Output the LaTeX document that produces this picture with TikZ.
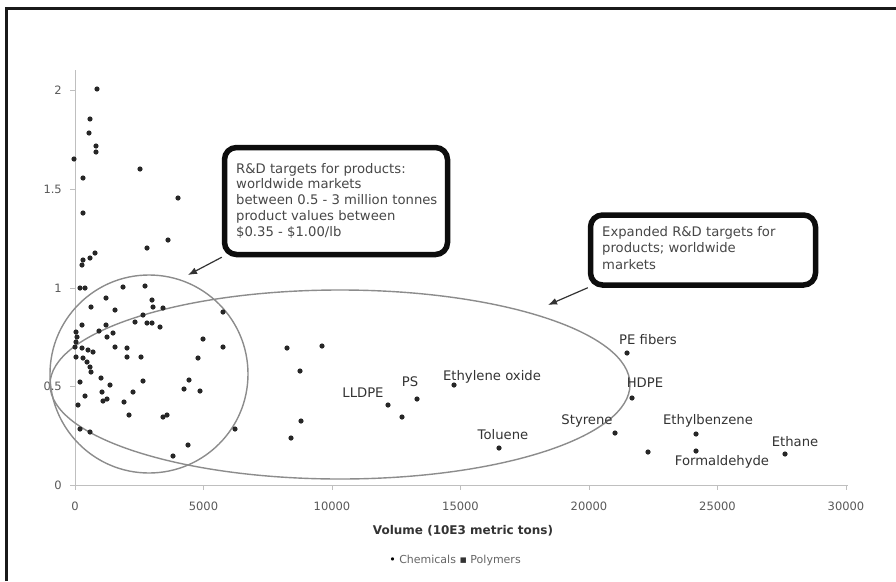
\documentclass[tikz,border=0pt]{standalone}
\usepackage{fontspec}
\setmainfont{DejaVu Sans}
\usetikzlibrary{arrows.meta,backgrounds}
\begin{document}
\begin{tikzpicture}[x=1pt,y=-1pt,
  lbl/.style={font=\fontsize{13.2}{15}\selectfont,text=black!80,inner sep=0pt},
  ticklbl/.style={font=\fontsize{11.5}{13}\selectfont,text=black!65,inner sep=0pt},
  callout/.style={draw=black!95,line width=5.5pt,rounded corners=12pt,fill=white,inner sep=0pt},
  ctext/.style={font=\fontsize{13.2}{15.7}\selectfont,text=black!72,align=left,inner sep=0pt,anchor=north west},
  axisline/.style={draw=black!25,line width=1pt},
  region/.style={draw=black!45,line width=1.4pt},
  pointer/.style={draw=black!80,line width=1.2pt,-{Latex[length=9pt,width=7pt]}}
]
\useasboundingbox (0,0) rectangle (896,581);
% frame
\draw[black!90,line width=3pt] (6,581) -- (6,8) -- (896,8);
% axes
\draw[axisline] (75,70) -- (75,485) -- (848,485);
\foreach \yy in {90,189,288,386,485} \draw[axisline] (70,\yy) -- (75,\yy);
\foreach \k in {0,...,6} \draw[axisline] ({75+128.5*\k},485) -- ({75+128.5*\k},490);
\node[ticklbl,anchor=east] (y2) at (62,90) {2};
\node[ticklbl,anchor=east] (y15) at (62,189) {1.5};
\node[ticklbl,anchor=east] (y1) at (62,288) {1};
\node[ticklbl,anchor=east] (y05) at (62,386) {0.5};
\node[ticklbl,anchor=east] (y0) at (62,485) {0};
\node[ticklbl] (x0) at (75,506) {0};
\node[ticklbl] (x1) at (203.5,506) {5000};
\node[ticklbl] (x2) at (332,506) {10000};
\node[ticklbl] (x3) at (460.5,506) {15000};
\node[ticklbl] (x4) at (589,506) {20000};
\node[ticklbl] (x5) at (717.5,506) {25000};
\node[ticklbl] (x6) at (846,506) {30000};
\node[font=\fontsize{12}{14}\selectfont\bfseries,text=black!80,inner sep=0pt] (xt) at (463,531) {Volume (10E3 metric tons)};
\node[font=\fontsize{11}{12}\selectfont,text=black!60,inner sep=0pt] (leg) at (455,560) {\textcolor{black}{•} Chemicals \textcolor{black!80}{▪} Polymers};
% regions
\draw[region] (149,374) circle (99pt);
\draw[region] (340,384.5) ellipse (290pt and 94.5pt);
% data points
\foreach \px/\py in {97/89,90/119,89/133,74/159,83/178,140/169,178/198,83/213,96/146,96/152,
  147/248,168/240,83/260,82/265,95/253,90/258,
  85/288,80/288,123/287,145/286,106/298,152/300,91/307,115/310,153/307,163/308,223/312,
  135/322,143/315,147/323,152/323,160/327,106/325,99/331,107/337,113/333,82/325,76/332,77/337,76/342,
  75/347,82/348,88/350,93/352,115/347,127/348,127/357,141/357,203/339,223/347,198/358,
  76/357,83/358,87/362,90/367,91/372,
  80/382,101/378,110/385,143/381,189/380,184/389,200/391,133/392,102/392,85/396,103/401,107/399,124/402,78/405,
  129/415,163/417,167/415,80/429,90/432,235/429,188/445,173/456,
  287/348,322/346,300/371,388/405,417/399,402/417,454/385,301/421,291/438,499/448,
  627/353,632/398,615/433,648/452,696/434,696/451,785/454}
  \fill[black!85] (\px,\py) circle (2.6pt);
% data labels
\node[lbl] (lldpe) at (363,393) {LLDPE};
\node[lbl] (ps) at (410,382) {PS};
\node[lbl] (eo) at (492,377) {Ethylene oxide};
\node[lbl] (tol) at (503,435) {Toluene};
\node[lbl] (pef) at (648,340) {PE fibers};
\node[lbl] (hdpe) at (645,383) {HDPE};
\node[lbl] (sty) at (587,421) {Styrene};
\node[lbl] (eb) at (708,421) {Ethylbenzene};
\node[lbl] (form) at (722,462) {Formaldehyde};
\node[lbl] (eth) at (795,442) {Ethane};
% callouts
\node[callout,minimum width=223pt,minimum height=107pt] (box1) at (336,201) {};
\node[ctext] (t1) at (236,163) {R\&D targets for products:\\worldwide markets\\between 0.5 - 3 million tonnes\\product values between\\\$0.35 - \$1.00/lb};
\node[callout,minimum width=225pt,minimum height=70pt] (box2) at (703,250) {};
\node[ctext,font=\fontsize{13.2}{16.7}\selectfont] (t2) at (602,226) {Expanded R\&D targets for\\products; worldwide\\markets};
\coordinate (tip1) at (188,275);
\coordinate (tip2) at (548,305);
\begin{scope}[on background layer]
\fill[white] (0,0) rectangle (896,581);
\draw[pointer] (box1.south west) -- (tip1);
\draw[pointer] (box2.south west) -- (tip2);
\end{scope}
\end{tikzpicture}
\end{document}
